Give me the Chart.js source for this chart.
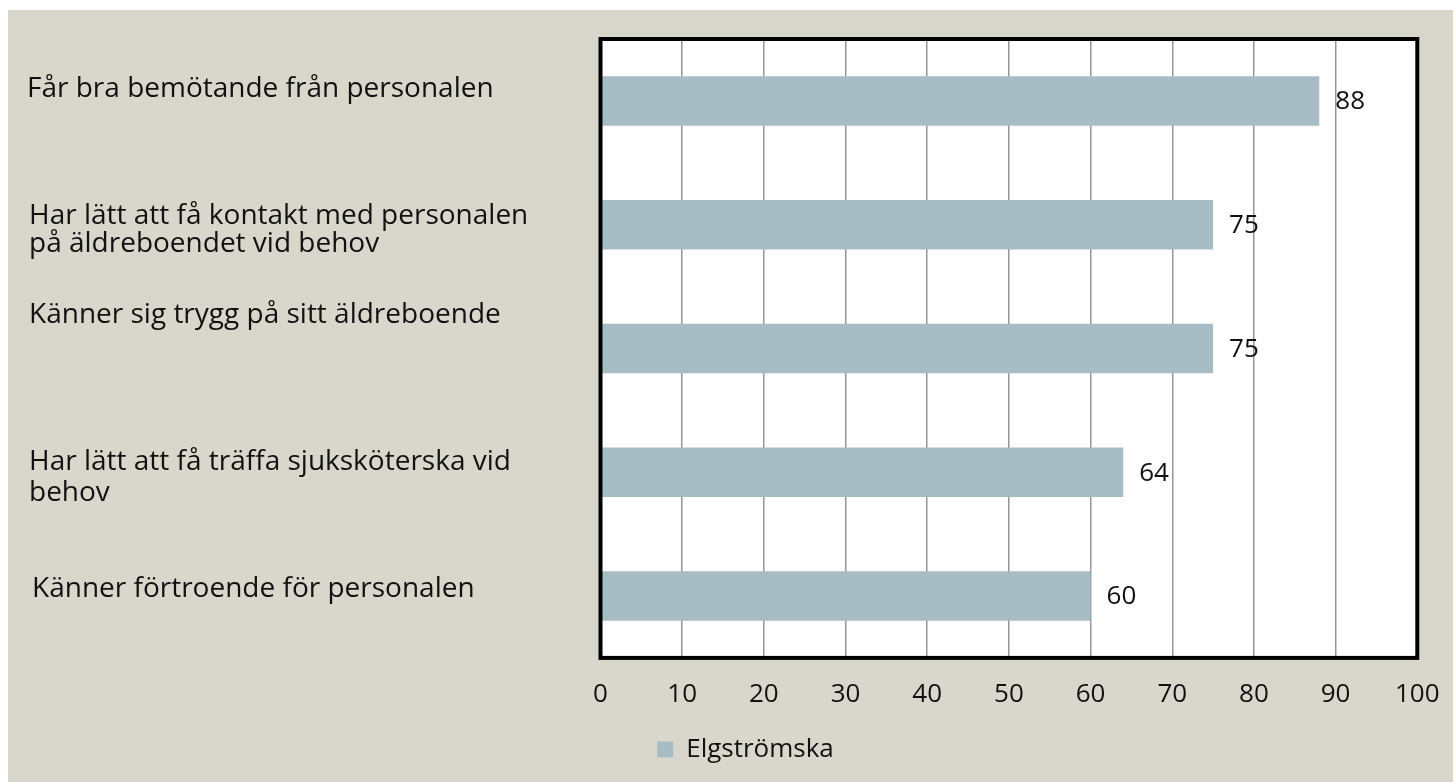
<!DOCTYPE html>
<html>
<head>
<meta charset="utf-8">
<script src="https://cdn.jsdelivr.net/npm/chart.js@4/dist/chart.umd.min.js"></script>
<style>
  html, body { margin: 0; padding: 0; background: #ffffff; }
  #wrap { position: absolute; left: 8px; top: 10px; width: 1445px; height: 772px; background: #D9D7CC; }
  canvas { display: block; }
</style>
</head>
<body>
<div id="wrap"><canvas id="c" width="1445" height="772"></canvas></div>
<script>
// ---- data ----
const categories = [
  ["Får bra bemötande från personalen"],
  ["Har lätt att få kontakt med personalen", "på äldreboendet vid behov"],
  ["Känner sig trygg på sitt äldreboende"],
  ["Har lätt att få träffa sjuksköterska vid", "behov"],
  ["Känner förtroende för personalen"]
];
const values = [88, 75, 75, 64, 60];
const seriesName = "Elgströmska";
const xMin = 0, xMax = 100, xStep = 10;

// ---- layout / style (not data) ----
const FONT = "'Open Sans', Lato, sans-serif";
const FS = 26;      // ticks, values, legend
const CAT_FS = 28;  // category texts
const labelX = [19, 21, 21, 21, 24];          // canvas x of category text
const labelBaseOffset = [-3.7, -1, -25, -2.6, 1.3]; // first baseline vs bar centre
const labelLineGap = [28, 28, 28, 31, 28];

const catLabelPlugin = {
  id: 'catLabels',
  afterDraw(chart) {
    const ctx = chart.ctx, y = chart.scales.y;
    ctx.save();
    ctx.font = CAT_FS + "px " + FONT;
    ctx.fillStyle = "#111";
    ctx.textAlign = "left";
    ctx.textBaseline = "alphabetic";
    categories.forEach((lines, i) => {
      const cy = y.getPixelForValue(i);
      lines.forEach((ln, j) => {
        ctx.fillText(ln, labelX[i], cy + labelBaseOffset[i] + j * labelLineGap[i]);
      });
    });
    ctx.restore();
  }
};

const boxPlugin = {
  id: 'plotBox',
  beforeDraw(chart) {
    const a = chart.chartArea, ctx = chart.ctx;
    ctx.save();
    ctx.fillStyle = "#ffffff";
    ctx.fillRect(a.left, a.top, a.right - a.left, a.bottom - a.top);
    ctx.restore();
  },
  afterDatasetsDraw(chart) {
    const a = chart.chartArea, ctx = chart.ctx;
    ctx.save();
    ctx.strokeStyle = "#000";
    ctx.lineWidth = 4;
    ctx.strokeRect(a.left, a.top, a.right - a.left, a.bottom - a.top);
    // value labels
    ctx.font = FS + "px " + FONT;
    ctx.fillStyle = "#111";
    ctx.textAlign = "left";
    ctx.textBaseline = "middle";
    const meta = chart.getDatasetMeta(0);
    meta.data.forEach((bar, i) => {
      ctx.fillText(String(values[i]), bar.x + 16, bar.y + 1);
    });
    ctx.restore();
  }
};

new Chart(document.getElementById('c'), {
  type: 'bar',
  data: {
    labels: categories,
    datasets: [{
      label: seriesName,
      data: values,
      backgroundColor: '#A8BCC6',
      borderWidth: 0,
      barPercentage: 0.4,
      categoryPercentage: 1.0
    }]
  },
  options: {
    indexAxis: 'y',
    responsive: false,
    animation: false,
    layout: { padding: { top: 29, right: 26, left: 56, bottom: 9.4 } },
    scales: {
      x: {
        min: xMin, max: xMax,
        ticks: { stepSize: xStep, color: '#111', font: { family: FONT, size: FS }, padding: 21, maxRotation: 0 },
        grid: { color: '#969696', lineWidth: 1.5, drawTicks: false },
        border: { display: false },
        afterFit(s) { s.height = 68.7; s.paddingRight = 35.7; s.paddingLeft = 20; }
      },
      y: {
        ticks: { display: false },
        grid: { display: false },
        border: { display: false },
        afterFit(s) { s.width = 536.5; }
      }
    },
    plugins: {
      legend: {
        position: 'bottom',
        labels: { boxWidth: 16, boxHeight: 16, color: '#111', font: { family: FONT, size: FS }, padding: 10 }
      },
      tooltip: { enabled: false }
    }
  },
  plugins: [boxPlugin, catLabelPlugin]
});
</script>
</body>
</html>
